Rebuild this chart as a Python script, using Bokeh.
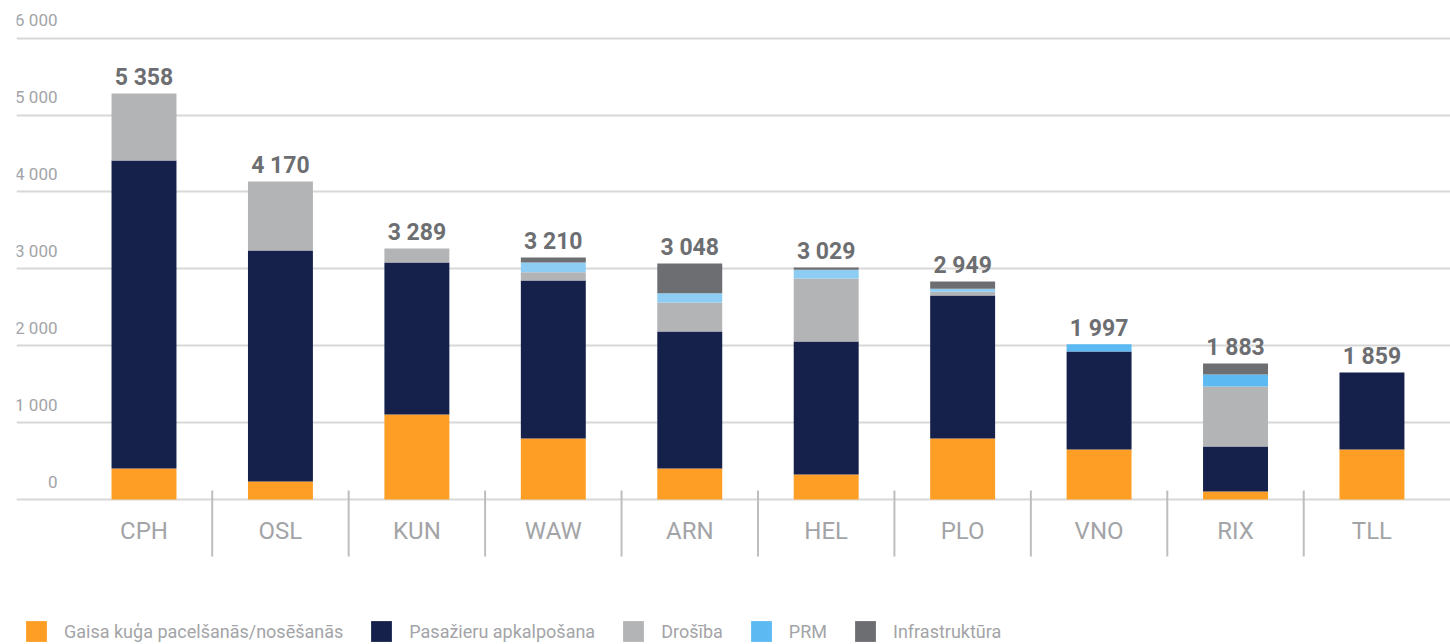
import numpy as np
from bokeh.plotting import figure
from bokeh.models import ColumnDataSource, Range1d, FixedTicker, Legend, LegendItem, Grid
from bokeh.core.properties import value
from bokeh.embed import file_html
from bokeh.resources import INLINE

# ---------------- data ----------------
airports = ["CPH", "OSL", "KUN", "WAW", "ARN", "HEL", "PLO", "VNO", "RIX", "TLL"]
total_labels = ["5 358", "4 170", "3 289", "3 210", "3 048", "3 029", "2 949", "1 997", "1 883", "1 859"]
takeoff_landing = [403, 234, 1105, 793, 403, 325, 793, 650, 104, 650]
passenger_service = [4005, 3004, 1977, 2055, 1782, 1730, 1860, 1275, 585, 1001]
security = [872, 897, 182, 108, 377, 819, 48, 0, 780, 0]
prm = [0, 0, 0, 126, 121, 113, 39, 95, 156, 0]
infrastructure = [0, 0, 0, 65, 386, 30, 95, 0, 143, 0]
prm_colors = ["#8dcdf4", "#8dcdf4", "#8dcdf4", "#8dcdf4", "#8dcdf4", "#8dcdf4", "#8dcdf4",
              "#5cb9f2", "#5cb9f2", "#5cb9f2"]
series_names = ["Gaisa kuģa pacelšanās/nosēšanās", "Pasažieru apkalpošana", "Drošība", "PRM", "Infrastruktūra"]
series_colors = ["#ff9e24", "#15214b", "#b3b4b6", "#5cb9f2", "#6d6e71"]
y_ticks = [0, 1000, 2000, 3000, 4000, 5000, 6000]
y_tick_labels = ["0", "1 000", "2 000", "3 000", "4 000", "5 000", "6 000"]

# ---------------- layout helpers ----------------
W, H = 1450, 644
FRAME_LEFT_PX = 16
FRAME_TOP_PX = 0
FRAME_BOTTOM_PX = 644
ZERO_PX = 499.0
TOP_TICK_PX = 37.7
scale = (ZERO_PX - TOP_TICK_PX) / 6000.0   # px per unit
y_start = -(FRAME_BOTTOM_PX - ZERO_PX) / scale
y_end = 6000 + (TOP_TICK_PX - FRAME_TOP_PX) / scale

CENTER0_PX = 143.5
STEP_PX = 136.44
x_start = (FRAME_LEFT_PX - CENTER0_PX) / STEP_PX
x_end = (W - CENTER0_PX) / STEP_PX

def px_to_y(px):
    return (ZERO_PX - px) / scale

x = list(range(len(airports)))
keys = ["takeoff", "passenger", "security", "prm", "infra"]
src = ColumnDataSource(dict(x=x, airport=airports, takeoff=takeoff_landing,
                            passenger=passenger_service, security=security, prm=prm,
                            infra=infrastructure, prm_color=prm_colors))

p = figure(width=W, height=H, output_backend="svg", toolbar_location=None,
           x_range=Range1d(x_start, x_end), y_range=Range1d(y_start, y_end),
           x_axis_location=None, y_axis_location=None,
           min_border_left=FRAME_LEFT_PX, min_border_right=0, min_border_top=0, min_border_bottom=0)
p.outline_line_color = None
p.xgrid.visible = False
p.ygrid.visible = False
p.background_fill_color = "white"

grid = Grid(dimension=1, ticker=FixedTicker(ticks=y_ticks),
            grid_line_color="#d8d8d8", grid_line_width=2)
p.add_layout(grid, "center")

colors_for_stack = [series_colors[0], series_colors[1], series_colors[2], "prm_color", series_colors[4]]
renderers = p.vbar_stack(keys, x="x", width=0.476, color=colors_for_stack, line_color=None, source=src)

# totals (drawn bar tops)
bar_tops = np.array(takeoff_landing) + np.array(passenger_service) + np.array(security) + np.array(prm) + np.array(infrastructure)
p.text(x=x, y=list(bar_tops), text=total_labels, y_offset=-16, text_align="center",
       text_baseline="alphabetic", text_font=value("Roboto"), text_font_style="bold",
       text_font_size="23px", text_color="#6d6e71")

# x category labels
p.text(x=x, y=[0] * len(x), text=airports, y_offset=31, text_align="center",
       text_baseline="alphabetic", text_font=value("Roboto"), text_font_size="24px",
       text_color="#a3a4a7")

# y tick labels (above gridlines, right aligned)
p.text(x=[x_start] * len(y_ticks), y=y_ticks, text=y_tick_labels, x_offset=41, y_offset=-18,
       text_align="right", text_baseline="alphabetic", text_font=value("Roboto"),
       text_font_size="17px", text_color="#a3a4a7")

# category separators
mids = [i + 0.5 for i in range(len(airports) - 1)]
p.segment(x0=mids, y0=[px_to_y(490)] * len(mids), x1=mids, y1=[px_to_y(556)] * len(mids),
          line_color="#bcbec0", line_width=2)

items = []
for i, (name, r) in enumerate(zip(series_names, renderers)):
    if name == "PRM":
        items.append(LegendItem(label=name, renderers=[r], index=7))
    else:
        items.append(LegendItem(label=name, renderers=[r]))
legend = Legend(items=items, orientation="horizontal", location=(7, 0),
                padding=0, margin=0, spacing=25, glyph_width=26, glyph_height=26,
                label_height=26, label_standoff=15, label_text_font="Roboto",
                label_text_font_size="18px", label_text_color="#a3a4a7",
                border_line_color=None, background_fill_alpha=0)
p.add_layout(legend, "center")

open("out.html", "w").write(file_html(p, INLINE))
